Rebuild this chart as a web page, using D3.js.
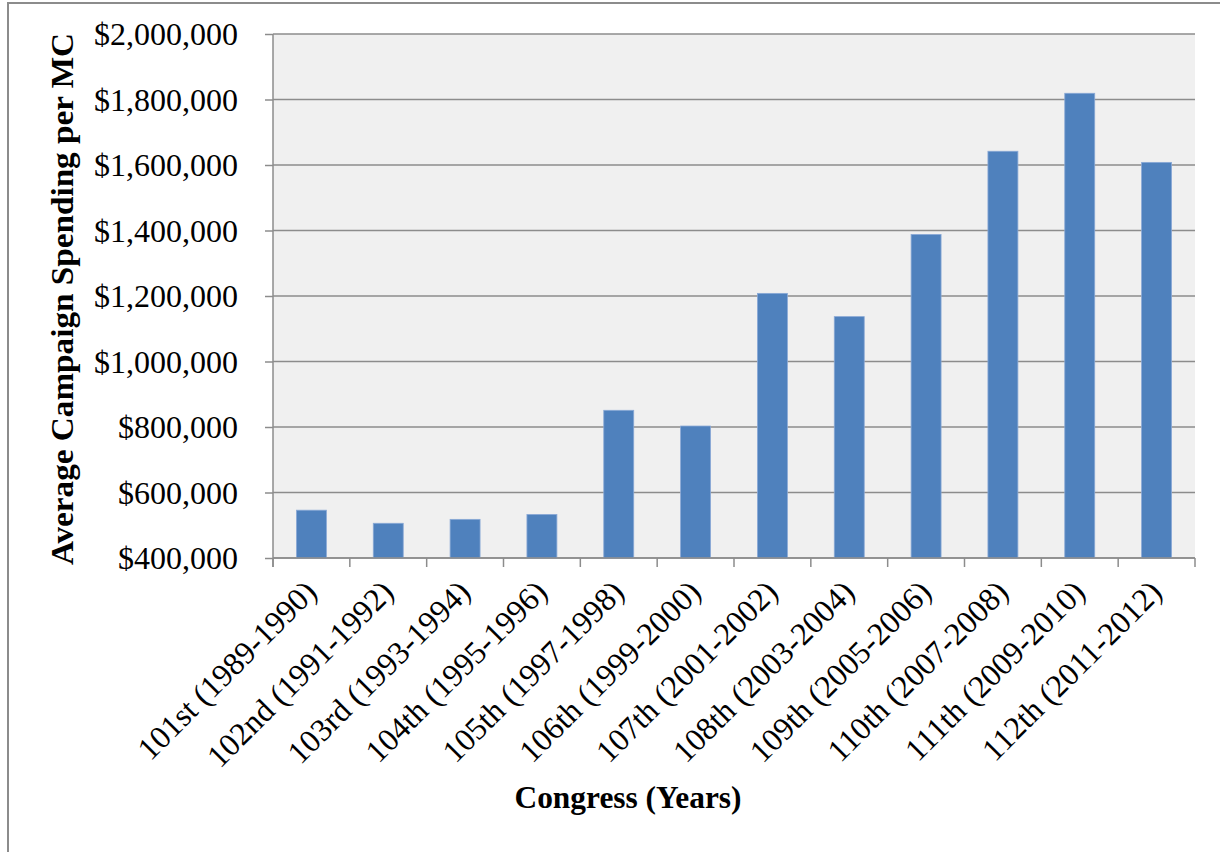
<!DOCTYPE html>
<html><head><meta charset="utf-8">
<script src="https://cdn.jsdelivr.net/npm/d3@7"></script>
<style>body{margin:0;background:#fff}svg{display:block}</style>
</head><body><svg id="c" width="1220" height="852"></svg>
<script>
const categories = ["101st (1989-1990)","102nd (1991-1992)","103rd (1993-1994)","104th (1995-1996)","105th (1997-1998)","106th (1999-2000)","107th (2001-2002)","108th (2003-2004)","109th (2005-2006)","110th (2007-2008)","111th (2009-2010)","112th (2011-2012)"];
const spending = [546000,506000,518000,533000,851000,803000,1208000,1137000,1388000,1642000,1819000,1608000];
const yTicks = [400000,600000,800000,1000000,1200000,1400000,1600000,1800000,2000000];
const yTitle = "Average Campaign Spending per MC";
const xTitle = "Congress (Years)";

const svg = d3.select("#c");
const L=273,R=1195,T=34,B=558;
const font = "'Liberation Serif','Times New Roman',serif";

// outer frame
svg.append("path").attr("d","M8,852V3H1220").attr("fill","none").attr("stroke","#8c8c8c").attr("stroke-width",2);

const x = d3.scaleBand().domain(categories).range([L,R]).paddingInner(0.61).paddingOuter(0.305);
const xb = d3.scaleBand().domain(categories).range([L,R]);
const y = d3.scaleLinear().domain([400000,2000000]).range([B,T]);

svg.append("rect").attr("x",L).attr("y",T).attr("width",R-L).attr("height",B-T).attr("fill","#f0f0f0");

// gridlines
const fmt = v => "$" + d3.format(",")(v);
const yAxis = svg.append("g").attr("transform",`translate(${L},0)`)
  .call(d3.axisLeft(y).tickValues(yTicks).tickSize(8).tickFormat(fmt));
yAxis.select(".domain").remove();
yAxis.selectAll(".tick line").attr("stroke","#8c8c8c").attr("stroke-width",1.5);
yAxis.selectAll(".tick text").attr("x",-35).attr("dy","0.33em")
  .attr("font-family",font).attr("font-size",32).attr("fill","#000");
svg.append("g").selectAll("line").data(yTicks).join("line")
  .attr("x1",L).attr("x2",R).attr("y1",d=>y(d)).attr("y2",d=>y(d))
  .attr("stroke","#8c8c8c").attr("stroke-width",1.5);
svg.append("line").attr("x1",L).attr("x2",L).attr("y1",T).attr("y2",B+9).attr("stroke","#8c8c8c").attr("stroke-width",1.5);

// bars
svg.append("g").selectAll("rect").data(spending).join("rect")
  .attr("x",(d,i)=>x(categories[i])).attr("width",x.bandwidth())
  .attr("y",d=>y(d)).attr("height",d=>B-y(d))
  .attr("fill","#4f81bd").attr("stroke","#8aa9d6").attr("stroke-width",0.8);

// x axis
const xTickPos = categories.map(c=>xb(c)).concat([R]);
svg.append("line").attr("x1",L).attr("x2",R).attr("y1",B).attr("y2",B).attr("stroke","#8c8c8c").attr("stroke-width",1.5);
svg.append("g").selectAll("line").data(xTickPos).join("line")
  .attr("x1",d=>d).attr("x2",d=>d).attr("y1",B).attr("y2",B+9)
  .attr("stroke","#8c8c8c").attr("stroke-width",1.5);
svg.append("g").selectAll("text").data(categories).join("text")
  .attr("transform",c=>`translate(${xb(c)+xb.bandwidth()/2+7},${B+36}) rotate(-45)`)
  .attr("text-anchor","end").attr("font-family",font).attr("font-size",32).attr("fill","#000")
  .text(c=>c);

// titles
svg.append("text").attr("transform",`translate(73,299) rotate(-90)`)
  .attr("text-anchor","middle").attr("font-family",font).attr("font-weight","bold").attr("font-size",32)
  .attr("textLength",532).attr("lengthAdjust","spacingAndGlyphs")
  .text(yTitle);
svg.append("text").attr("x",628).attr("y",808).attr("text-anchor","middle")
  .attr("font-family",font).attr("font-weight","bold").attr("font-size",32)
  .attr("textLength",227).attr("lengthAdjust","spacingAndGlyphs").text(xTitle);
</script></body></html>
